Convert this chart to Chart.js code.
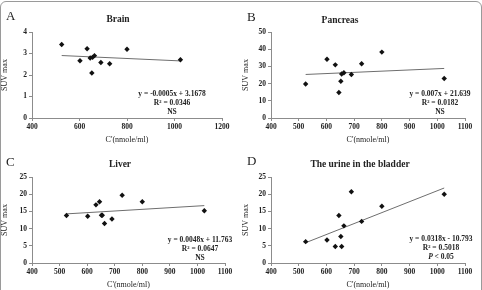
<!DOCTYPE html>
<html lang="en">
<head>
<meta charset="utf-8"/>
<title>SUV max vs C'</title>
<script src="https://cdn.jsdelivr.net/npm/chart.js"></script>
<style>
  body { margin: 0; background: #fff; font-family: 'Liberation Serif', serif; }
  #wrap { position: relative; width: 482px; height: 290px; overflow: hidden; }
  #frame { position: absolute; left: 0; top: 1px; width: 480px; height: 300px;
    border: 1px solid #9a9a9a; border-radius: 6px; }
  canvas { position: absolute; }
  .letter { position: absolute; font-size: 13px; line-height: 13px; color: #222; }
  .title { position: absolute; font-size: 9.5px; font-weight: bold; color: #222;
    transform: translate(-50%, -50%); white-space: nowrap; }
  .eq { position: absolute; font-size: 7.5px; font-weight: bold; line-height: 9.2px;
    text-align: center; color: #222; transform: translateX(-50%); white-space: nowrap; }
</style>
</head>
<body>
<div id="wrap">
  <div id="frame"></div>
  <canvas id="chartA" width="241" height="145" style="left:0;top:0"></canvas>
  <canvas id="chartB" width="241" height="145" style="left:241px;top:0"></canvas>
  <canvas id="chartC" width="241" height="145" style="left:0;top:145px"></canvas>
  <canvas id="chartD" width="241" height="145" style="left:241px;top:145px"></canvas>

  <div class="letter" style="left:6px;top:9px">A</div>
  <div class="letter" style="left:247px;top:10px">B</div>
  <div class="letter" style="left:6px;top:155px">C</div>
  <div class="letter" style="left:247px;top:154px">D</div>

  <div class="title" style="left:118px;top:19px">Brain</div>
  <div class="title" style="left:340px;top:20px">Pancreas</div>
  <div class="title" style="left:120px;top:164px">Liver</div>
  <div class="title" style="left:360px;top:164px">The urine in the bladder</div>

  <div class="eq" style="left:172px;top:89px">y = -0.0005x + 3.1678<br>R² = 0.0346<br>NS</div>
  <div class="eq" style="left:440px;top:89px">y = 0.007x + 21.639<br>R² = 0.0182<br>NS</div>
  <div class="eq" style="left:200px;top:235px">y = 0.0048x + 11.763<br>R² = 0.0647<br>NS</div>
  <div class="eq" style="left:441px;top:234px">y = 0.0318x - 10.793<br>R² = 0.5018<br><i>P</i> &lt; 0.05</div>
</div>
<script>
// C' (nmole/ml) for each patient, same for all panels
const concX = [525, 602, 632, 645, 652, 655, 663, 690, 727, 800, 1025];

// SUV max
const brainSuv    = [3.42, 2.66, 3.22, 2.79, 2.09, 2.82, 2.90, 2.58, 2.52, 3.20, 2.71];
const pancreasSuv = [19.8, 34.2, 30.9, 14.8, 21.4, 25.6, 26.3, 25.3, 31.5, 38.3, 23.0];
const liverSuv    = [13.8, 13.6, 16.9, 17.8, 13.9, 13.9, 11.5, 12.8, 19.7, 17.8, 15.2];
const urineSuv    = [6.2, 6.7, 4.8, 13.8, 7.7, 4.8, 10.8, 20.7, 12.1, 16.5, 20.0];

// linear trend line ends
const trendX        = [525, 1025];
const brainTrend    = [2.905, 2.655];
const pancreasTrend = [25.31, 28.81];
const liverTrend    = [14.28, 16.68];
const urineTrend    = [5.90, 21.80];

const axisGray = '#8c8c8c';
const tickFont = { family: 'Liberation Serif', size: 7.5, weight: 'bold' };

function pts(xs, ys) {
  return xs.map((x, i) => ({ x: x, y: ys[i] }));
}

function makeChart(id, suv, trend, xr, yr, pad) {
  new Chart(document.getElementById(id), {
    type: 'scatter',
    data: {
      datasets: [
        {
          data: pts(trendX, trend), showLine: true, borderColor: '#6e6e6e',
          borderWidth: 1, pointRadius: 0, order: 2
        },
        {
          data: pts(concX, suv), pointStyle: 'rectRot', pointRadius: 2.7,
          backgroundColor: '#111', borderColor: '#111', borderWidth: 0, order: 1
        }
      ]
    },
    options: {
      responsive: false, animation: false,
      layout: { padding: { top: pad.top, right: pad.right, left: 0, bottom: 0 } },
      plugins: { legend: { display: false }, tooltip: { enabled: false } },
      scales: {
        x: {
          type: 'linear', min: xr[0], max: xr[1],
          ticks: { stepSize: xr[2], font: tickFont, color: '#222', padding: 2, maxRotation: 0,
            callback: v => String(v) },
          grid: { drawOnChartArea: false, drawTicks: true, tickLength: 3, color: axisGray },
          border: { display: true, color: axisGray },
          title: { display: true, text: "C'(nmole/ml)", color: '#222', padding: { top: 1, bottom: 0 },
            font: { family: 'Liberation Serif', size: 8 } },
          afterFit: s => { s.height = pad.xh; }
        },
        y: {
          min: yr[0], max: yr[1],
          ticks: { stepSize: yr[2], font: tickFont, color: '#222', padding: 2,
            callback: v => String(v) },
          grid: { drawOnChartArea: false, drawTicks: true, tickLength: 3, color: axisGray },
          border: { display: true, color: axisGray },
          title: { display: true, text: 'SUV max', color: '#222', padding: { top: 0, bottom: 1 },
            font: { family: 'Liberation Serif', size: 8 } },
          afterFit: s => { s.width = pad.yw; }
        }
      }
    }
  });
}

makeChart('chartA', brainSuv, brainTrend, [400, 1200, 200], [0, 4, 0.5],
  { top: 32, right: 19, yw: 32, xh: 27 });
makeChart('chartB', pancreasSuv, pancreasTrend, [400, 1100, 100], [0, 50, 10],
  { top: 32, right: 17, yw: 30, xh: 27 });
makeChart('chartC', liverSuv, liverTrend, [400, 1100, 100], [0, 25, 5],
  { top: 32, right: 16, yw: 32, xh: 27 });
makeChart('chartD', urineSuv, urineTrend, [400, 1100, 100], [0, 25, 5],
  { top: 32, right: 17, yw: 30, xh: 27 });
</script>
</body>
</html>
